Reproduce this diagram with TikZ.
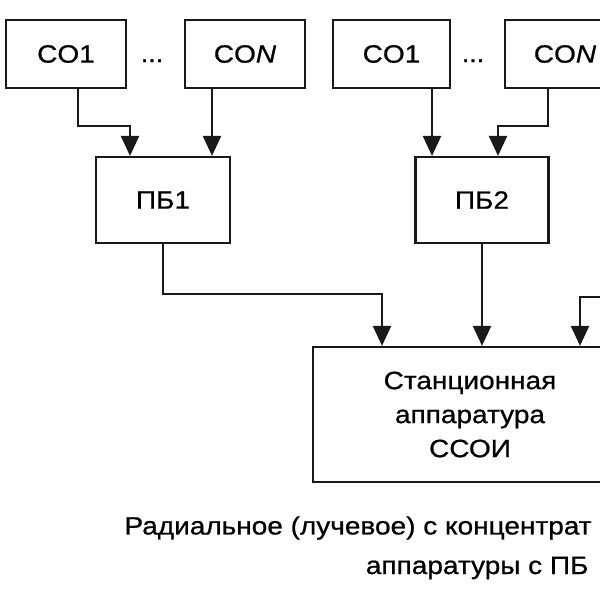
\documentclass[tikz,border=0pt]{standalone}
\usepackage{fontspec}
\setmainfont{Liberation Sans}[FakeStretch=1.12, FakeBold=0.8]
\usetikzlibrary{arrows.meta}

\begin{document}
\begin{tikzpicture}[x=1pt, y=-1pt,
	box/.style={draw=black!90, line width=2.2pt, inner sep=0pt, font=\fontsize{25}{34}\selectfont, align=center},
	arr/.style={draw=black!90, line width=2.2pt, -{Triangle[length=20pt,width=18pt]}}]
	\useasboundingbox [fill=white] (0,0) rectangle (600,600);
	\clip (0,0) rectangle (600,600);
	% sources
	\node [box, minimum width=120pt, minimum height=68pt] (coa) at (66,54) {CO1};
	\node [box, minimum width=120pt, minimum height=68pt] (cona) at (245,54) {CO\textit{N}};
	\node [box, minimum width=117pt, minimum height=68pt] (cob) at (391.5,54) {CO1};
	\node [box, minimum width=120pt, minimum height=68pt] (conb) at (565,54) {CO\textit{N}};
	\node [anchor=base, font=\fontsize{24}{24}\selectfont] (dotsa) at (152,62) {...};
	\node [anchor=base, font=\fontsize{24}{24}\selectfont] (dotsb) at (473,62) {...};
	% concentrators
	\node [box, minimum width=134pt, minimum height=86pt] (pba) at (163,200) {ПБ1};
	\node [box, minimum width=133pt, minimum height=86pt] (pbb) at (482,200) {ПБ2};
	\node [box, minimum width=314pt, minimum height=135pt] (ssoi) at (470,414.5) {Станционная\\аппаратура\\ССОИ};
	\coordinate (pbc) at (610,297);
	\draw [arr] ([xshift=12]coa.south) -- ++(0,37) -| ([xshift=-33]pba.north);
	\draw [arr] ([xshift=-33]cona.south) -- ([xshift=-33]cona.south |- pba.north);
	\draw [arr] ([xshift=40.5]cob.south) -- ([xshift=40.5]cob.south |- pbb.north);
	\draw [arr] ([xshift=-17]conb.south) -- ++(0,37) -| ([xshift=16]pbb.north);
	\draw [arr] (pba.south) -- ++(0,50) -| ([xshift=-88]ssoi.north);
	\draw [arr] (pbb.south) -- (pbb.south |- ssoi.north);
	\draw [arr] (pbc) -| ([xshift=110]ssoi.north);
	\node [anchor=west, font=\fontsize{25}{25}\selectfont] (capa) at (121,528) {Радиальное (лучевое) с концентрат};
	\node [anchor=east, font=\fontsize{25}{25}\selectfont] (capb) at (592,568) {аппаратуры с ПБ};
\end{tikzpicture}
\end{document}
